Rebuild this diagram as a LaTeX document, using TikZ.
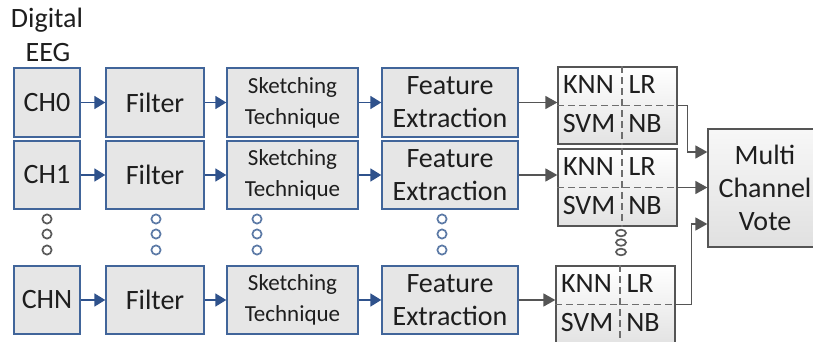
\documentclass[tikz,border=0pt]{standalone}
\usepackage{fontspec}
\setmainfont{Carlito}
\usetikzlibrary{arrows.meta}
\definecolor{bblue}{HTML}{41659A}
\definecolor{ablue}{HTML}{2F528C}
\definecolor{bfill}{HTML}{E6E6E6}
\definecolor{gline}{HTML}{555555}
\definecolor{dline}{HTML}{6E6E6E}
\definecolor{txt}{HTML}{1E1E1E}
\definecolor{dotblue}{HTML}{5C7AA6}
\definecolor{dotgray}{HTML}{5A5A5A}
\begin{document}
\begin{tikzpicture}[x=1pt,y=-1pt,
  box/.style={draw=bblue, line width=1.4pt, fill=bfill, inner sep=0pt, text=txt,
    font=\fontsize{28}{33}\selectfont, align=center, minimum height=68pt},
  skbox/.style={box, font=\fontsize{23}{31}\selectfont},
  clsbox/.style={draw=gline, line width=1.3pt, top color=white, bottom color=black!11,
    inner sep=0pt, minimum width=119pt, minimum height=77pt},
  votebox/.style={draw=gline, line width=1.3pt, top color=white!97!black, bottom color=black!12,
    inner sep=0pt, text=txt, font=\fontsize{28}{33}\selectfont, align=center,
    minimum width=114pt, minimum height=118pt},
  lab/.style={inner sep=0pt, text=txt, font=\fontsize{28}{33}\selectfont},
  dashln/.style={draw=dline, line width=1.1pt, dash pattern=on 7pt off 4pt},
  barrow/.style={draw=ablue, line width=1.8pt, -{Triangle[length=11pt,width=13pt]}},
  garrow/.style={draw=gline, line width=1.6pt, -{Triangle[length=12pt,width=13pt]}},
  bdot/.style={draw=dotblue, line width=1.7pt, fill=white},
  gdot/.style={draw=dotgray, line width=1.7pt, fill=white},
]
\useasboundingbox (0,0) rectangle (813,342);

% heading
\node[lab, anchor=base] (dig) at (47,28) {Digital};
\node[lab, anchor=base] (eeg) at (48,62) {EEG};

% row 0
\node[box, minimum width=66pt, minimum height=69pt] (ch0) at (47,102.5) {CH0};
\node[box, minimum width=98pt, minimum height=69pt] (fi0) at (155,102.5) {Filter};
\node[skbox, minimum width=131pt, minimum height=69pt] (sk0) at (292.5,102.5) {Sketching\\Technique};
\node[box, minimum width=136pt, minimum height=69pt] (fe0) at (450,102.5) {Feature\\Extraction};

% row 1
\node[box, minimum width=66pt] (ch1) at (47,175) {CH1};
\node[box, minimum width=98pt] (fi1) at (155,175) {Filter};
\node[skbox, minimum width=131pt] (sk1) at (292.5,175) {Sketching\\Technique};
\node[box, minimum width=136pt] (fe1) at (450,175) {Feature\\Extraction};

% row N
\node[box, minimum width=66pt] (chn) at (47,300) {CHN};
\node[box, minimum width=98pt] (fin) at (155,300) {Filter};
\node[skbox, minimum width=131pt] (skn) at (292.5,300) {Sketching\\Technique};
\node[box, minimum width=136pt] (fen) at (450,300) {Feature\\Extraction};

% classifier units
\newcommand{\clsunit}[2]{%
  \node[clsbox] (#1) at (#2) {};
  \draw[dashln] (#1.west) -- (#1.east);
  \draw[dashln] ([xshift=4.5pt]#1.north) -- ([xshift=4.5pt]#1.south);
  \path (#1.center) ++(-29,-21) node[lab] (#1-knn) {KNN};
  \path (#1.center) ++(24.5,-21) node[lab] (#1-lr) {LR};
  \path (#1.center) ++(-28.5,18.5) node[lab] (#1-svm) {SVM};
  \path (#1.center) ++(27.5,18) node[lab] (#1-nb) {NB};
}
\clsunit{c0}{617.5,105.5}
\clsunit{c1}{617.5,187.5}
\clsunit{cn}{615.5,304.5}

% vote
\node[votebox] (vote) at (765,188) {Multi\\Channel\\Vote};

% blue arrows
\foreach \r in {0,1,n}{
  \draw[barrow] (ch\r.east) -- (fi\r.west);
  \draw[barrow] (fi\r.east) -- (sk\r.west);
  \draw[barrow] (sk\r.east) -- (fe\r.west);
  \draw[garrow] (fe\r.east) -- (fe\r.east -| c\r.west);
}

% to vote
\coordinate (vin0) at (vote.west |- 0,152);
\coordinate (vinn) at (vote.west |- 0,224);
\draw[garrow] (c0.east) -- ++(10,0) |- (vin0);
\draw[garrow] (c1.east) -- (c1.east -| vote.west);
\draw[garrow] (cn.east) -- ++(16,0) |- (vinn);

% ellipsis dots
\foreach \yy in {219,234,250}{
  \draw[gdot] (47,\yy) circle[radius=4.6pt];
  \draw[bdot] (156,\yy) circle[radius=4.6pt];
  \draw[bdot] (257,\yy) circle[radius=4.6pt];
  \draw[bdot] (442,\yy) circle[radius=4.6pt];
}
\foreach \yy in {233,242.5,252}{
  \draw[gdot] (621,\yy) ellipse[x radius=5pt, y radius=3.3pt];
}
\end{tikzpicture}
\end{document}
